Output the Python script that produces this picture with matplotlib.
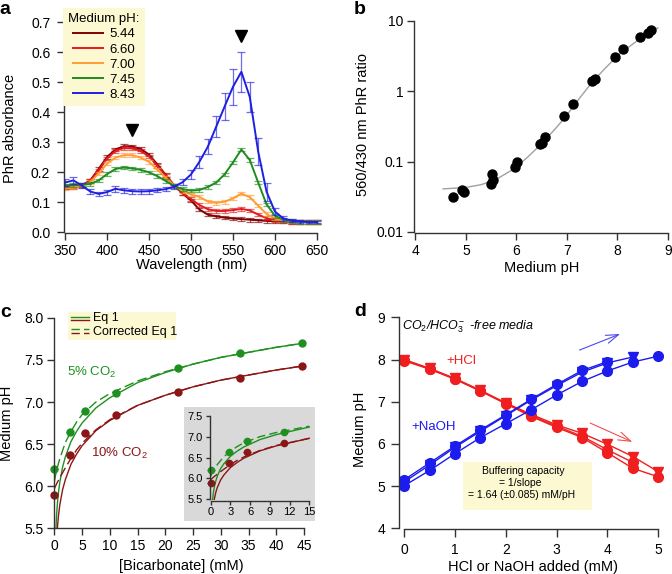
import matplotlib.pyplot as plt
from matplotlib.patches import Rectangle
from matplotlib.lines import Line2D
from matplotlib.ticker import NullLocator

plt.rcParams['font.family'] = ['Liberation Sans', 'DejaVu Sans']
plt.rcParams['mathtext.fontset'] = 'custom'
plt.rcParams['mathtext.rm'] = 'Liberation Sans'
plt.rcParams['mathtext.it'] = 'Liberation Sans:italic'

# ---- panel a: PhR absorbance spectra ----
wavelength = list(range(350, 651, 10))
abs_544 = [.148, .150, .155, .172, .210, .250, .275, .286, .285, .277, .258, .225, .190, .155, .128, .105,
           .075, .058, .052, .048, .045, .043, .041, .039, .037, .036, .035, .034, .034, .033, .033]
abs_660 = [.150, .152, .156, .170, .205, .245, .270, .280, .279, .270, .252, .220, .187, .155, .130, .110,
           .090, .076, .070, .070, .073, .077, .072, .058, .046, .039, .036, .034, .034, .033, .033]
abs_700 = [.145, .148, .153, .166, .195, .228, .248, .256, .256, .248, .234, .208, .180, .155, .137, .125,
           .117, .102, .097, .101, .112, .128, .116, .088, .060, .045, .038, .035, .034, .033, .033]
abs_745 = [.155, .157, .158, .160, .172, .193, .210, .215, .212, .207, .199, .186, .170, .153, .143, .138,
           .140, .150, .165, .192, .232, .275, .240, .165, .092, .054, .041, .036, .034, .033, .033]
abs_843 = [.165, .172, .155, .135, .127, .133, .144, .139, .136, .135, .136, .139, .143, .151, .166, .192,
           .234, .284, .351, .418, .484, .534, .450, .268, .134, .068, .045, .038, .035, .034, .033]
err_small = [.006] * 31
err_843 = [.012, .012, .008, .008, .007, .008, .009, .009, .009, .008, .008, .007, .007, .007, .010, .015,
           .020, .025, .035, .045, .060, .067, .050, .045, .030, .012, .008, .005, .004, .004, .004]
ph_labels = ['5.44', '6.60', '7.00', '7.45', '8.43']
peak_wl = [430, 560]
peak_mark = [0.34, 0.655]

# ---- panel b: ratio vs pH ----
ph_points = [4.75, 4.92, 4.96, 5.49, 5.51, 5.53, 5.97, 6.02, 6.46, 6.50, 6.56, 6.94, 7.12, 7.50, 7.55,
             7.96, 8.11, 8.45, 8.60, 8.67]
ratio_points = [0.031, 0.039, 0.037, 0.048, 0.067, 0.055, 0.083, 0.098, 0.179, 0.186, 0.225, 0.448, 0.67,
                1.38, 1.52, 3.12, 4.05, 5.93, 6.83, 7.45]
fit_ph = [4.55, 5.0, 5.3, 5.6, 5.9, 6.2, 6.5, 6.8, 7.0, 7.25, 7.5, 7.75, 8.0, 8.25, 8.5, 8.8]
fit_ratio = [0.041, 0.043, 0.047, 0.056, 0.075, 0.112, 0.18, 0.31, 0.46, 0.80, 1.35, 2.1, 3.2, 4.4, 6.0, 8.0]

# ---- panel c: pH vs bicarbonate ----
bicarb = [0, 2.75, 5.5, 11.1, 22.3, 33.4, 44.6]
ph_5co2 = [6.20, 6.64, 6.89, 7.11, 7.40, 7.58, 7.70]
ph_10co2 = [5.90, 6.37, 6.63, 6.84, 7.12, 7.29, 7.43]
eq_x_5 = [0.3, 0.4, 0.6, 0.8, 1, 1.5, 2, 3, 4, 5, 7.5, 10, 15, 20, 25, 30, 35, 40, 45]
eq_y_5 = [5.5, 5.65, 5.83, 5.95, 6.05, 6.23, 6.35, 6.53, 6.65, 6.75, 6.93, 7.05, 7.23, 7.35, 7.45, 7.53,
          7.59, 7.65, 7.70]
cor_x_5 = [0, 0.25, 0.5, 1, 2, 3, 4, 5, 7.5, 10, 15, 20, 25, 30, 35, 40, 45]
cor_y_5 = [6.05, 6.14, 6.21, 6.33, 6.52, 6.65, 6.76, 6.85, 7.00, 7.10, 7.25, 7.36, 7.45, 7.53, 7.59, 7.65, 7.70]
eq_x_10 = [0.55, 0.75, 1, 1.5, 2, 3, 4, 5, 7.5, 10, 15, 20, 25, 30, 35, 40, 45]
eq_y_10 = [5.5, 5.65, 5.78, 5.96, 6.08, 6.26, 6.38, 6.48, 6.66, 6.78, 6.96, 7.08, 7.18, 7.26, 7.32, 7.38, 7.43]
cor_x_10 = [0, 0.5, 1, 2, 3, 4, 5, 7.5, 10, 15, 20, 25, 30, 35, 40, 45]
cor_y_10 = [5.97, 6.04, 6.10, 6.22, 6.33, 6.43, 6.51, 6.67, 6.79, 6.96, 7.08, 7.18, 7.26, 7.32, 7.38, 7.43]

# ---- panel d: titration ----
added = [0, 0.5, 1, 1.5, 2, 2.5, 3, 3.5, 4, 4.5, 5]
hcl_1 = [8.00, 7.79, 7.55, 7.27, 6.97, 6.70, 6.45, 6.25, 5.99, 5.70, 5.34]
hcl_2 = [7.98, 7.78, 7.54, 7.26, 6.96, 6.67, 6.42, 6.18, 5.86, 5.56]
hcl_3 = [7.97, 7.77, 7.53, 7.25, 6.95, 6.65, 6.39, 6.15, 5.79, 5.42, 5.22]
naoh_1 = [5.15, 5.55, 5.95, 6.33, 6.69, 7.06, 7.41, 7.74, 7.95]
naoh_2 = [5.10, 5.50, 5.92, 6.30, 6.67, 7.04, 7.38, 7.70, 7.92, 8.06]
naoh_3 = [5.01, 5.37, 5.77, 6.15, 6.48, 6.81, 7.16, 7.48, 7.73, 7.94, 8.08]

W, H = 672, 574
fig = plt.figure(figsize=(W / 100, H / 100), dpi=100)


def fx(px):
    return px / W


def fy(py):
    return 1 - py / H


def add_ax(x0, x1, y0, y1):
    return fig.add_axes([x0 / W, 1 - y1 / H, (x1 - x0) / W, (y1 - y0) / H])


def style(ax, xb, yb, size=10):
    ax.spines['top'].set_visible(False)
    ax.spines['right'].set_visible(False)
    for s in ['left', 'bottom']:
        ax.spines[s].set_color('#333333')
        ax.spines[s].set_linewidth(1)
    ax.spines['bottom'].set_bounds(*xb)
    ax.spines['left'].set_bounds(*yb)
    ax.tick_params(direction='out', length=5, width=1, color='#333333', labelsize=size, pad=3)


# panel a
ax = add_ax(64.2, 322.0, 16, 232.9)
colors_a = ['#7f0000', '#e31a1c', '#ff9c33', '#1f8c1f', '#1f1fe0']
spectra = [abs_544, abs_660, abs_700, abs_745, abs_843]
errs = [err_small, err_small, err_small, err_small, err_843]
handles = []
for y, e, c, lab in zip(spectra, errs, colors_a, ph_labels):
    ax.errorbar(wavelength, y, yerr=e, fmt='none', ecolor=c, alpha=0.65, elinewidth=0.9,
                capsize=2.8, capthick=0.9)
    ax.plot(wavelength, y, color=c, lw=1.4)
    handles.append(Line2D([], [], color=c, lw=1.4, label=lab))
ax.plot(peak_wl, peak_mark, 'v', color='black', ms=8, ls='none')
ax.set_xlim(349, 656)
ax.set_ylim(-0.003, 0.72)
ax.set_xticks(range(350, 651, 50))
ax.set_yticks([0, .1, .2, .3, .4, .5, .6, .7])
ax.set_yticklabels(['0.0', '0.1', '0.2', '0.3', '0.4', '0.5', '0.6', '0.7'])
style(ax, (350, 650), (0, 0.7))
ax.tick_params(axis='y', pad=5)
ax.legend(handles=handles, title='Medium pH:', loc='upper left',
          bbox_to_anchor=(fx(63), fy(8)), bbox_transform=fig.transFigure,
          fontsize=9.5, title_fontsize=9.5, facecolor='#fcf8d2', edgecolor='none',
          fancybox=False, framealpha=1, handlelength=2.3, labelspacing=0.22,
          borderpad=0.4, handletextpad=0.5, borderaxespad=0)
fig.text(fx(192), fy(265), 'Wavelength (nm)', ha='center', va='center', fontsize=10.5)
fig.text(fx(10), fy(128), 'PhR absorbance', ha='center', va='center', rotation=90, fontsize=10.5)

# panel b
ax = add_ax(414.3, 668, 15.94, 232.6)
ax.set_yscale('log')
ax.plot(fit_ph, fit_ratio, color='#a0a0a0', lw=1)
ax.plot(ph_points, ratio_points, 'o', color='black', ms=6.5, clip_on=False)
ax.set_xlim(3.98, 9.0)
ax.set_ylim(0.0098, 11.8)
ax.set_xticks([4, 5, 6, 7, 8, 9])
ax.set_yticks([0.01, 0.1, 1, 10])
ax.set_yticklabels(['0.01', '0.1', '1', '10'])
ax.yaxis.set_minor_locator(NullLocator())
style(ax, (4, 9), (0.01, 10))
fig.text(fx(541.7), fy(268), 'Medium pH', ha='center', va='center', fontsize=10.5)
fig.text(fx(363), fy(125), '560/430 nm PhR ratio', ha='center', va='center', rotation=90, fontsize=10.5)

# panel c
green, dred = '#1f8f1f', '#8c1515'
ax = add_ax(54.3, 309.6, 313.6, 528.3)
ax.plot(eq_x_5, eq_y_5, color=green, lw=1)
ax.plot(cor_x_5, cor_y_5, color=green, lw=1, dashes=(7, 3))
ax.plot(eq_x_10, eq_y_10, color=dred, lw=1)
ax.plot(cor_x_10, cor_y_10, color=dred, lw=1, dashes=(7, 3))
ax.errorbar(bicarb, ph_5co2, xerr=0.6, fmt='o', color=green, ms=5, elinewidth=1, capsize=0, clip_on=False)
ax.errorbar(bicarb, ph_10co2, xerr=0.6, fmt='o', color=dred, ms=5, elinewidth=1, capsize=0, clip_on=False)
ax.set_xlim(0, 46)
ax.set_ylim(5.5, 8.05)
ax.set_xticks(range(0, 46, 5))
ax.set_yticks([5.5, 6.0, 6.5, 7.0, 7.5, 8.0])
ax.set_yticklabels(['5.5', '6.0', '6.5', '7.0', '7.5', '8.0'])
style(ax, (0, 45), (5.5, 8.0))
ax.text(2.23, 7.355, '5% CO$_2$', color=green, fontsize=9.5, va='center')
ax.text(6.56, 6.39, '10% CO$_2$', color=dred, fontsize=9.5, va='center')
fig.text(fx(181), fy(566), '[Bicarbonate] (mM)', ha='center', va='center', fontsize=10.5)
fig.text(fx(7), fy(423), 'Medium pH', ha='center', va='center', rotation=90, fontsize=10.5)

# legend for panel c
fig.add_artist(Rectangle((fx(68), fy(340)), 108 / W, 28 / H, transform=fig.transFigure,
                         fc='#fcf8d2', ec='none'))
for py, c, d in [(316.7, green, None), (320, dred, None), (329.3, green, (6, 3)), (333.3, dred, (6, 3))]:
    l = Line2D([fx(70.7), fx(89.3)], [fy(py), fy(py)], transform=fig.transFigure, color=c, lw=1)
    if d:
        l.set_dashes(d)
    fig.add_artist(l)
fig.text(fx(92.7), fy(318.5), 'Eq 1', fontsize=9, va='center')
fig.text(fx(92.7), fy(331.5), 'Corrected Eq 1', fontsize=9, va='center')

# inset
axi = add_ax(184, 315, 407, 521)
axi.set_facecolor('#d9d9d9')
m5 = [i for i, v in enumerate(eq_x_5) if v <= 15]
axi.plot([eq_x_5[i] for i in m5], [eq_y_5[i] for i in m5], color=green, lw=1)
m5c = [i for i, v in enumerate(cor_x_5) if v <= 15]
axi.plot([cor_x_5[i] for i in m5c], [cor_y_5[i] for i in m5c], color=green, lw=1, dashes=(6, 3))
m10 = [i for i, v in enumerate(eq_x_10) if v <= 15]
axi.plot([eq_x_10[i] for i in m10], [eq_y_10[i] for i in m10], color=dred, lw=1)
m10c = [i for i, v in enumerate(cor_x_10) if v <= 15]
axi.plot([cor_x_10[i] for i in m10c], [cor_y_10[i] for i in m10c], color=dred, lw=1, dashes=(6, 3))
axi.errorbar(bicarb[:4], ph_5co2[:4], xerr=0.6, fmt='o', color=green, ms=4.5, elinewidth=1, capsize=0)
axi.errorbar(bicarb[:4], ph_10co2[:4], xerr=0.6, fmt='o', color=dred, ms=4.5, elinewidth=1, capsize=0)
axi.set_xlim(-4.06, 15.87)
axi.set_ylim(4.98, 7.71)
axi.spines['left'].set_position(('data', -0.15))
axi.spines['bottom'].set_position(('data', 5.47))
axi.set_xticks([0, 3, 6, 9, 12, 15])
axi.set_yticks([5.5, 6.0, 6.5, 7.0, 7.5])
axi.set_yticklabels(['5.5', '6.0', '6.5', '7.0', '7.5'])
style(axi, (0, 15), (5.5, 7.5), size=8)
axi.tick_params(length=3, pad=2)

# panel d
red, blue = '#f01e1e', '#1c1cee'
ax = add_ax(399.2, 665.9, 313.1, 529.1)
for rep, mk in [(hcl_1, 'v'), (hcl_2, 'o'), (hcl_3, 'o')]:
    ax.plot(added[:len(rep)], rep, '-', marker=mk, color=red, ms=7, lw=1, clip_on=False)
for rep, mk in [(naoh_2, 'v'), (naoh_1, 'o'), (naoh_3, 'o')]:
    ax.plot(added[:len(rep)], rep, '-', marker=mk, color=blue, ms=7, lw=1, clip_on=False)
ax.set_xlim(-0.1, 5.15)
ax.set_ylim(3.98, 9.1)
ax.set_xticks([0, 1, 2, 3, 4, 5])
ax.set_yticks([4, 5, 6, 7, 8, 9])
style(ax, (0, 5), (4, 9))
ax.tick_params(length=6, pad=4)
ax.text(0.83, 7.97, '+HCl', color=red, fontsize=9.5, va='center')
ax.text(0.146, 6.41, '+NaOH', color=blue, fontsize=9.5, va='center')
ax.text(-0.05, 8.77, 'CO$_2$/HCO$_3^-$ -free media', style='italic', fontsize=9, va='center')
ax.annotate('', xy=(4.30, 8.63), xytext=(3.40, 8.20),
            arrowprops=dict(arrowstyle='->, head_length=0.9, head_width=0.3', color='#4a4af0', lw=0.8))
ax.annotate('', xy=(4.54, 6.02), xytext=(3.61, 6.52),
            arrowprops=dict(arrowstyle='->, head_length=0.9, head_width=0.3', color='#f05050', lw=0.8))
fig.add_artist(Rectangle((fx(463), fy(510)), 129 / W, 48 / H, transform=fig.transFigure,
                         fc='#fcf8d2', ec='none'))
fig.text(fx(523), fy(471), 'Buffering capacity', ha='center', va='center', fontsize=7.5)
fig.text(fx(520), fy(483), '= 1/slope', ha='center', va='center', fontsize=7.5)
fig.text(fx(522), fy(494.5), '= 1.64 (\u00b10.085) mM/pH', ha='center', va='center', fontsize=7.5)
fig.text(fx(533), fy(567), 'HCl or NaOH added (mM)', ha='center', va='center', fontsize=10.5)
fig.text(fx(360), fy(429), 'Medium pH', ha='center', va='center', rotation=90, fontsize=10.5)

# panel letters
for x, y, s in [(4.5, 10, 'a'), (360, 9, 'b'), (6, 312.5, 'c'), (360, 312, 'd')]:
    fig.text(fx(x), fy(y), s, ha='center', va='center', fontsize=14, fontweight='bold')

fig.savefig('out.png', dpi=100)
